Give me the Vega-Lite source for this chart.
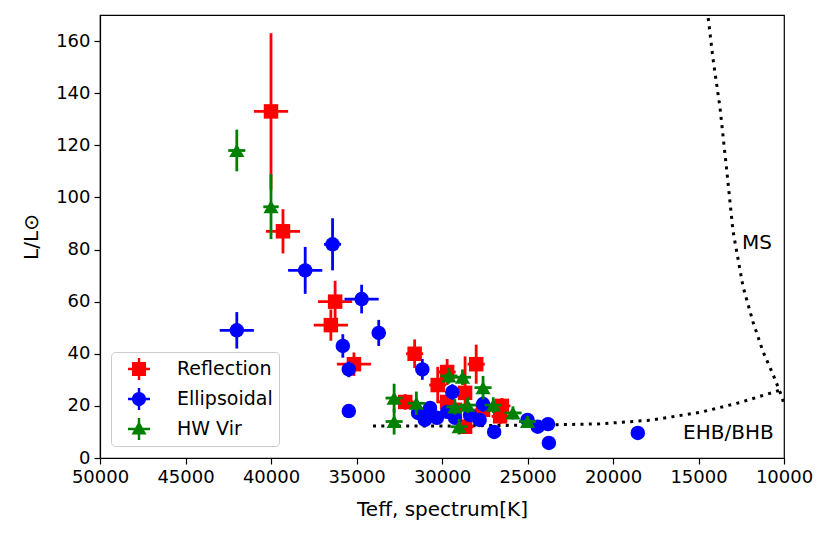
{
  "$schema": "https://vega.github.io/schema/vega-lite/v6.json",
  "width": 684,
  "height": 443,
  "autosize": {"type": "none"},
  "padding": {"left": 100, "top": 15, "right": 47, "bottom": 86},
  "background": "white",
  "config": {
    "font": "DejaVu Sans",
    "view": {"stroke": "black", "strokeWidth": 1.2},
    "axis": {"grid": false, "domainColor": "black", "domainWidth": 1.2, "tickColor": "black", "tickWidth": 1.2, "tickSize": 6, "labelFontSize": 18, "labelColor": "black", "titleFontSize": 20, "titleFontWeight": "normal", "titleColor": "black", "labelFont": "DejaVu Sans", "titleFont": "DejaVu Sans", "labelPadding": 4, "labelFlush": false, "labelOverlap": false}
  },
  "datasets": {
    "pts": [
      {"type": "Reflection", "T": 40000, "L": 133, "T1": 39000, "T2": 41000, "L1": 103, "L2": 163},
      {"type": "Reflection", "T": 39300, "L": 87, "T1": 38300, "T2": 40300, "L1": 78.5, "L2": 95.5},
      {"type": "Reflection", "T": 36250, "L": 60, "T1": 35250, "T2": 37250, "L1": 52, "L2": 68},
      {"type": "Reflection", "T": 36500, "L": 51, "T1": 35500, "T2": 37500, "L1": 45, "L2": 57},
      {"type": "Reflection", "T": 35150, "L": 36, "T1": 34150, "T2": 36150, "L1": 31.5, "L2": 40.5},
      {"type": "Reflection", "T": 31600, "L": 40, "T1": 31100, "T2": 32100, "L1": 34.5, "L2": 45.5},
      {"type": "Reflection", "T": 30250, "L": 28, "T1": 29750, "T2": 30750, "L1": 21, "L2": 35},
      {"type": "Reflection", "T": 29700, "L": 33, "T1": 29200, "T2": 30200, "L1": 28, "L2": 38},
      {"type": "Reflection", "T": 28000, "L": 36, "T1": 27500, "T2": 28500, "L1": 28.5, "L2": 43.5},
      {"type": "Reflection", "T": 28650, "L": 25, "T1": 28350, "T2": 28950, "L1": 11, "L2": 39},
      {"type": "Reflection", "T": 32150, "L": 21.5, "T1": 31650, "T2": 32650, "L1": 18.5, "L2": 24.5},
      {"type": "Reflection", "T": 29700, "L": 21.5, "T1": 29200, "T2": 30200, "L1": 18.5, "L2": 24.5},
      {"type": "Reflection", "T": 26500, "L": 20, "T1": 26000, "T2": 27000, "L1": 17, "L2": 23},
      {"type": "Reflection", "T": 27600, "L": 18.5, "T1": 27100, "T2": 28100, "L1": 15.5, "L2": 21.5},
      {"type": "Reflection", "T": 26600, "L": 16, "T1": 26100, "T2": 27100, "L1": 13, "L2": 19},
      {"type": "Reflection", "T": 28650, "L": 12, "T1": 28150, "T2": 29150, "L1": 9.5, "L2": 14.5},
      {"type": "Reflection", "T": 29250, "L": 18.5, "T1": 28750, "T2": 29750, "L1": 15.5, "L2": 21.5},
      {"type": "Ellipsoidal", "T": 42000, "L": 49, "T1": 41000, "T2": 43000, "L1": 42, "L2": 56},
      {"type": "Ellipsoidal", "T": 38000, "L": 72, "T1": 37000, "T2": 39000, "L1": 63, "L2": 81},
      {"type": "Ellipsoidal", "T": 36400, "L": 82, "T1": 35900, "T2": 36900, "L1": 72, "L2": 92},
      {"type": "Ellipsoidal", "T": 34700, "L": 61, "T1": 33700, "T2": 35700, "L1": 55.5, "L2": 66.5},
      {"type": "Ellipsoidal", "T": 33700, "L": 48, "T1": 33300, "T2": 34100, "L1": 43, "L2": 53},
      {"type": "Ellipsoidal", "T": 35800, "L": 43, "T1": 35500, "T2": 36100, "L1": 38.5, "L2": 47.5},
      {"type": "Ellipsoidal", "T": 35450, "L": 34, "T1": 35150, "T2": 35750, "L1": 31, "L2": 37},
      {"type": "Ellipsoidal", "T": 35450, "L": 18, "T1": 35150, "T2": 35750, "L1": 16.5, "L2": 19.5},
      {"type": "Ellipsoidal", "T": 31150, "L": 34, "T1": 30850, "T2": 31450, "L1": 30, "L2": 38},
      {"type": "Ellipsoidal", "T": 29400, "L": 25.3, "T1": 29100, "T2": 29700, "L1": 22.3, "L2": 28.3},
      {"type": "Ellipsoidal", "T": 31400, "L": 17.3, "T1": 31100, "T2": 31700, "L1": 15.3, "L2": 19.3},
      {"type": "Ellipsoidal", "T": 31000, "L": 14.6, "T1": 30700, "T2": 31300, "L1": 12.6, "L2": 16.6},
      {"type": "Ellipsoidal", "T": 30300, "L": 15.4, "T1": 30000, "T2": 30600, "L1": 13.4, "L2": 17.4},
      {"type": "Ellipsoidal", "T": 29700, "L": 17.7, "T1": 29400, "T2": 30000, "L1": 15.7, "L2": 19.7},
      {"type": "Ellipsoidal", "T": 29240, "L": 15.4, "T1": 28940, "T2": 29540, "L1": 13.4, "L2": 17.4},
      {"type": "Ellipsoidal", "T": 30700, "L": 19.2, "T1": 30400, "T2": 31000, "L1": 17.2, "L2": 21.2},
      {"type": "Ellipsoidal", "T": 28360, "L": 16.5, "T1": 28060, "T2": 28660, "L1": 14.5, "L2": 18.5},
      {"type": "Ellipsoidal", "T": 27800, "L": 14.6, "T1": 27500, "T2": 28100, "L1": 12.6, "L2": 16.6},
      {"type": "Ellipsoidal", "T": 27600, "L": 20.7, "T1": 27300, "T2": 27900, "L1": 17.7, "L2": 23.7},
      {"type": "Ellipsoidal", "T": 26950, "L": 10, "T1": 26650, "T2": 27250, "L1": 8.5, "L2": 11.5},
      {"type": "Ellipsoidal", "T": 25000, "L": 14.6, "T1": 24700, "T2": 25300, "L1": 13, "L2": 16.2},
      {"type": "Ellipsoidal", "T": 24400, "L": 12, "T1": 24100, "T2": 24700, "L1": 10.5, "L2": 13.5},
      {"type": "Ellipsoidal", "T": 23800, "L": 13, "T1": 23500, "T2": 24100, "L1": 11.5, "L2": 14.5},
      {"type": "Ellipsoidal", "T": 23750, "L": 5.8, "T1": 23450, "T2": 24050, "L1": 4.8, "L2": 6.8},
      {"type": "Ellipsoidal", "T": 18550, "L": 9.6, "T1": 18250, "T2": 18850, "L1": 8.6, "L2": 10.6},
      {"type": "HW Vir", "T": 42000, "L": 118, "T1": 41500, "T2": 42500, "L1": 110, "L2": 126},
      {"type": "HW Vir", "T": 40000, "L": 96.4, "T1": 39550, "T2": 40450, "L1": 84, "L2": 109},
      {"type": "HW Vir", "T": 32800, "L": 23, "T1": 32300, "T2": 33300, "L1": 17.5, "L2": 28.5},
      {"type": "HW Vir", "T": 32800, "L": 14, "T1": 32300, "T2": 33300, "L1": 9, "L2": 19},
      {"type": "HW Vir", "T": 31500, "L": 21, "T1": 31000, "T2": 32000, "L1": 16.5, "L2": 25.5},
      {"type": "HW Vir", "T": 29600, "L": 31.5, "T1": 29100, "T2": 30100, "L1": 28.5, "L2": 34.5},
      {"type": "HW Vir", "T": 28800, "L": 31, "T1": 28300, "T2": 29300, "L1": 28, "L2": 34},
      {"type": "HW Vir", "T": 27600, "L": 27, "T1": 27100, "T2": 28100, "L1": 22.5, "L2": 31.5},
      {"type": "HW Vir", "T": 29250, "L": 19.6, "T1": 28750, "T2": 29750, "L1": 16.6, "L2": 22.6},
      {"type": "HW Vir", "T": 28500, "L": 20.3, "T1": 28000, "T2": 29000, "L1": 17.3, "L2": 23.3},
      {"type": "HW Vir", "T": 29000, "L": 12, "T1": 28500, "T2": 29500, "L1": 9, "L2": 15},
      {"type": "HW Vir", "T": 27000, "L": 20.3, "T1": 26500, "T2": 27500, "L1": 17.3, "L2": 23.3},
      {"type": "HW Vir", "T": 25850, "L": 17.3, "T1": 25350, "T2": 26350, "L1": 14.8, "L2": 19.8},
      {"type": "HW Vir", "T": 25000, "L": 14, "T1": 24500, "T2": 25500, "L1": 12, "L2": 16}
    ],
    "ms": [
      {"T": 14480, "L": 172},
      {"T": 14444, "L": 169.5},
      {"T": 14152, "L": 153.2},
      {"T": 13743, "L": 134.5},
      {"T": 13334, "L": 109.5},
      {"T": 12983, "L": 87.1},
      {"T": 12398, "L": 65.8},
      {"T": 11813, "L": 52.2},
      {"T": 11228, "L": 40.8},
      {"T": 10643, "L": 32.1},
      {"T": 10117, "L": 23.4},
      {"T": 10000, "L": 20.5}
    ],
    "ehb": [
      {"T": 34035, "L": 12.3},
      {"T": 29530, "L": 12.3},
      {"T": 24850, "L": 12.6},
      {"T": 20760, "L": 13.1},
      {"T": 17840, "L": 14.5},
      {"T": 14910, "L": 17.5},
      {"T": 12570, "L": 21.3},
      {"T": 10000, "L": 26.5}
    ],
    "labels": [
      {"T": 12450, "L": 82.5, "label": "MS"},
      {"T": 15900, "L": 9.6, "label": "EHB/BHB"}
    ]
  },
  "layer": [
    {
      "data": {"name": "ehb"},
      "mark": {"type": "line", "color": "black", "strokeWidth": 3, "strokeDash": [3, 5.3], "clip": true},
      "encoding": {
        "x": {"field": "T", "type": "quantitative", "title": "Teff, spectrum[K]", "scale": {"domain": [10000, 50000], "reverse": true, "nice": false, "zero": false}, "axis": {"values": [10000, 15000, 20000, 25000, 30000, 35000, 40000, 45000, 50000], "format": "d", "titlePadding": 13}},
        "y": {"field": "L", "type": "quantitative", "title": "L/L⊙", "scale": {"domain": [0, 170], "nice": false}, "axis": {"values": [0, 20, 40, 60, 80, 100, 120, 140, 160], "titlePadding": 14}}
      }
    },
    {
      "data": {"name": "ms"},
      "mark": {"type": "line", "color": "black", "strokeWidth": 3, "strokeDash": [3, 5.3], "clip": true},
      "encoding": {
        "x": {"field": "T", "type": "quantitative", "title": "Teff, spectrum[K]"},
        "y": {"field": "L", "type": "quantitative", "title": "L/L⊙"}
      }
    },
    {
      "data": {"name": "labels"},
      "mark": {"type": "text", "align": "left", "baseline": "middle", "fontSize": 20, "color": "black", "font": "DejaVu Sans"},
      "encoding": {
        "x": {"field": "T", "type": "quantitative", "title": "Teff, spectrum[K]"},
        "y": {"field": "L", "type": "quantitative", "title": "L/L⊙"},
        "text": {"field": "label"}
      }
    },
    {
      "data": {"name": "pts"},
      "transform": [{"filter": "datum.type === 'Reflection'"}],
      "layer": [
        {"mark": {"type": "rule", "color": "#ff0000", "strokeWidth": 2.8}, "encoding": {"x": {"field": "T1", "type": "quantitative", "title": "Teff, spectrum[K]"}, "x2": {"field": "T2"}, "y": {"field": "L", "type": "quantitative", "title": "L/L⊙"}}},
        {"mark": {"type": "rule", "color": "#ff0000", "strokeWidth": 2.8}, "encoding": {"x": {"field": "T", "type": "quantitative", "title": "Teff, spectrum[K]"}, "y": {"field": "L1", "type": "quantitative", "title": "L/L⊙"}, "y2": {"field": "L2"}}},
        {"mark": {"type": "point", "filled": true, "opacity": 1, "size": 210, "shape": "square"}, "encoding": {"x": {"field": "T", "type": "quantitative", "title": "Teff, spectrum[K]"}, "y": {"field": "L", "type": "quantitative", "title": "L/L⊙"}, "color": {"field": "type", "type": "nominal"}}}
      ]
    },
    {
      "data": {"name": "pts"},
      "transform": [{"filter": "datum.type === 'Ellipsoidal'"}],
      "layer": [
        {"mark": {"type": "rule", "color": "#0000ff", "strokeWidth": 2.8}, "encoding": {"x": {"field": "T1", "type": "quantitative", "title": "Teff, spectrum[K]"}, "x2": {"field": "T2"}, "y": {"field": "L", "type": "quantitative", "title": "L/L⊙"}}},
        {"mark": {"type": "rule", "color": "#0000ff", "strokeWidth": 2.8}, "encoding": {"x": {"field": "T", "type": "quantitative", "title": "Teff, spectrum[K]"}, "y": {"field": "L1", "type": "quantitative", "title": "L/L⊙"}, "y2": {"field": "L2"}}},
        {"mark": {"type": "point", "filled": true, "opacity": 1, "size": 210, "shape": "circle"}, "encoding": {"x": {"field": "T", "type": "quantitative", "title": "Teff, spectrum[K]"}, "y": {"field": "L", "type": "quantitative", "title": "L/L⊙"}, "color": {"field": "type", "type": "nominal"}}}
      ]
    },
    {
      "data": {"name": "pts"},
      "transform": [{"filter": "datum.type === 'HW Vir'"}],
      "layer": [
        {"mark": {"type": "rule", "color": "#008000", "strokeWidth": 2.8}, "encoding": {"x": {"field": "T1", "type": "quantitative", "title": "Teff, spectrum[K]"}, "x2": {"field": "T2"}, "y": {"field": "L", "type": "quantitative", "title": "L/L⊙"}}},
        {"mark": {"type": "rule", "color": "#008000", "strokeWidth": 2.8}, "encoding": {"x": {"field": "T", "type": "quantitative", "title": "Teff, spectrum[K]"}, "y": {"field": "L1", "type": "quantitative", "title": "L/L⊙"}, "y2": {"field": "L2"}}},
        {"mark": {"type": "point", "filled": true, "opacity": 1, "size": 230, "shape": "triangle-up"}, "encoding": {"x": {"field": "T", "type": "quantitative", "title": "Teff, spectrum[K]"}, "y": {"field": "L", "type": "quantitative", "title": "L/L⊙"}, "color": {"field": "type", "type": "nominal"}}}
      ]
    },
    {
      "data": {"name": "pts"},
      "transform": [{"filter": "false"}],
      "mark": {"type": "point", "filled": true, "opacity": 1, "size": 484},
      "encoding": {
        "x": {"field": "T", "type": "quantitative", "title": "Teff, spectrum[K]"},
        "y": {"field": "L", "type": "quantitative", "title": "L/L⊙"},
        "color": {"field": "type", "type": "nominal", "scale": {"domain": ["Reflection", "Ellipsoidal", "HW Vir"], "range": ["#ff0000", "#0000ff", "#008000"]},
          "legend": {"title": null, "orient": "none", "legendX": 11, "legendY": 337, "padding": 6, "strokeColor": "#cccccc", "cornerRadius": 4, "fillColor": "white", "labelFontSize": 19, "labelFont": "DejaVu Sans", "labelColor": "black", "symbolSize": 484, "rowPadding": 8, "symbolOffset": 11, "labelOffset": 27, "symbolStrokeWidth": 0, "symbolOpacity": 1}},
        "shape": {"field": "type", "type": "nominal", "scale": {"domain": ["Reflection", "Ellipsoidal", "HW Vir"], "range": [
          "M-0.64,-0.64H0.64V0.64H-0.64Z M-1,-0.11H1V0.11H-1Z M-0.11,-1H0.11V1H-0.11Z",
          "M-0.64,0A0.64,0.64,0,1,1,0.64,0A0.64,0.64,0,1,1,-0.64,0Z M-1,-0.11H1V0.11H-1Z M-0.11,-1H0.11V1H-0.11Z",
          "M0,-0.72L0.68,0.5L-0.68,0.5Z M-1,-0.11H1V0.11H-1Z M-0.11,-1H0.11V1H-0.11Z"]}}
      }
    }
  ]
}
